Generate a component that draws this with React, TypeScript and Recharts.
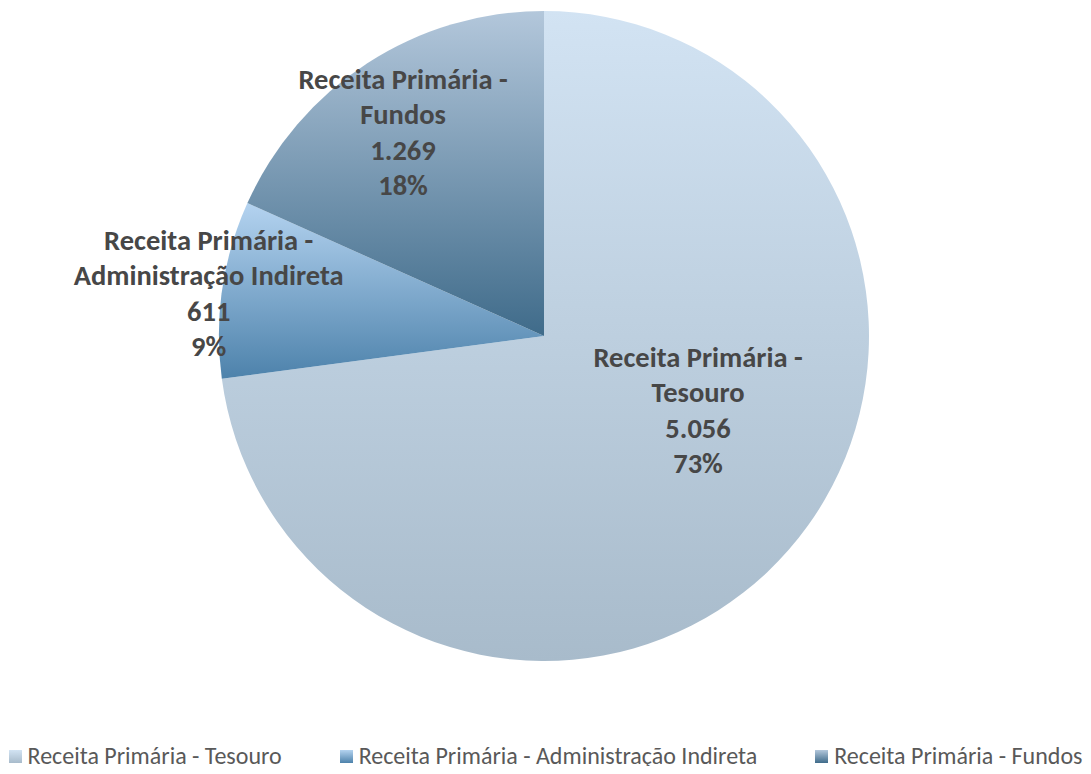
import React from 'react';
import { PieChart, Pie, Cell, Legend } from 'recharts';

const categories = [
  'Receita Primária - Tesouro',
  'Receita Primária - Administração Indireta',
  'Receita Primária - Fundos',
];
const values = [5056, 611, 1269];

// gradient stops (top, bottom) for each slice
const gradTop = ['#d2e3f3', '#b4d3f0', '#b3c7db'];
const gradBottom = ['#a8bbcb', '#4d82ab', '#3f6b8a'];

// label placement tweaks, relative to each slice's mid angle
const labelRadius = [171, 338, 248];
const labelAngleShift = [15.5, 1, 1.7];

const FONT = 'Carlito, Calibri, Lato, sans-serif';
const RAD = Math.PI / 180;

const data = categories.map((name, i) => ({ name, value: values[i] }));

const fmt = (n: number) => String(n).replace(/\B(?=(\d{3})+(?!\d))/g, '.');

const splitName = (name: string): string[] => {
  const parts = name.split(' - ');
  return [parts[0] + ' -', parts[1]];
};

const renderLabel = (props: any) => {
  const { cx, cy, midAngle, index, value, percent, name } = props;
  const ang = (midAngle + labelAngleShift[index]) * RAD;
  const r = labelRadius[index];
  const x = cx + r * Math.cos(ang);
  const y = cy - r * Math.sin(ang);
  const lines = [...splitName(name), fmt(value), `${Math.round(percent * 100)}%`];
  const lh = 35.5;
  const y0 = y - (lh * (lines.length - 1)) / 2;
  return (
    <text
      x={x}
      y={y0}
      textAnchor="middle"
      dominantBaseline="central"
      fill="#474747"
      fontFamily={FONT}
      fontWeight="bold"
      fontSize={28.5}
    >
      {lines.map((l, k) => (
        <tspan key={k} x={x} y={y0 + k * lh} dominantBaseline="central">
          {l}
        </tspan>
      ))}
    </text>
  );
};

const renderLegend = () => (
  <div
    style={{
      display: 'flex',
      justifyContent: 'center',
      gap: 58,
      fontFamily: FONT,
      fontSize: 24,
      lineHeight: '28px',
      color: '#595959',
      whiteSpace: 'nowrap',
    }}
  >
    {categories.map((c, i) => (
      <div key={c} style={{ display: 'flex', alignItems: 'center' }}>
        <span
          style={{
            display: 'inline-block',
            width: 13,
            height: 13,
            marginRight: 6,
            background: `linear-gradient(${gradTop[i]}, ${gradBottom[i]})`,
          }}
        />
        <span>{c}</span>
      </div>
    ))}
  </div>
);

export default function App() {
  return (
    <div style={{ margin: -8, width: 1091, height: 774, background: '#fff' }}>
      <PieChart width={1091} height={774} margin={{ top: 0, right: 0, bottom: 0, left: 0 }}>
        <defs>
          {categories.map((c, i) => (
            <linearGradient key={c} id={`g${i}`} x1="0" y1="0" x2="0" y2="1">
              <stop offset="0%" stopColor={gradTop[i]} />
              <stop offset="100%" stopColor={gradBottom[i]} />
            </linearGradient>
          ))}
        </defs>
        <Pie
          data={data}
          dataKey="value"
          nameKey="name"
          cx={544}
          cy={336}
          outerRadius={325}
          startAngle={90}
          endAngle={-270}
          stroke="none"
          labelLine={false}
          label={renderLabel}
          isAnimationActive={false}
        >
          {data.map((d, i) => (
            <Cell key={d.name} fill={`url(#g${i})`} />
          ))}
        </Pie>
        <Legend
          verticalAlign="bottom"
          content={renderLegend}
          wrapperStyle={{ top: 742, bottom: 'auto', left: 0, width: 1091 }}
        />
      </PieChart>
    </div>
  );
}
